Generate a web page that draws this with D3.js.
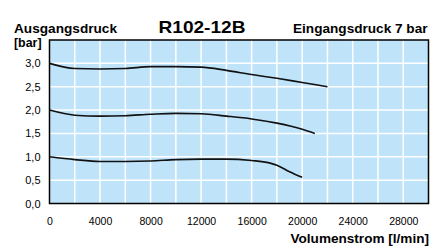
<!DOCTYPE html>
<html><head><meta charset="utf-8">
<script src="https://cdn.jsdelivr.net/npm/d3@7"></script>
<style>body{margin:0;background:#fff}svg{display:block;font-family:"Liberation Sans",Arial,Helvetica,sans-serif}</style>
</head><body><svg id="c" width="438" height="248"></svg>
<script>
const title = "R102-12B";
const yLabel1 = "Ausgangsdruck", yLabel2 = "[bar]";
const inletLabel = "Eingangsdruck 7 bar";
const xLabel = "Volumenstrom [l/min]";
const xTicks = [0, 4000, 8000, 12000, 16000, 20000, 24000, 28000];
const yTicks = [0, 0.5, 1.0, 1.5, 2.0, 2.5, 3.0];
const flow3 = [0, 2000, 4000, 6000, 8000, 10000, 12000, 14000, 16000, 18000, 20000, 22000];
const p3 =    [3.0, 2.89, 2.88, 2.89, 2.93, 2.93, 2.92, 2.85, 2.76, 2.68, 2.59, 2.5];
const flow2 = [0, 2000, 4000, 6000, 8000, 10000, 12000, 14000, 16000, 18000, 20000, 21000];
const p2 =    [2.0, 1.89, 1.87, 1.88, 1.91, 1.93, 1.92, 1.87, 1.81, 1.72, 1.59, 1.5];
const flow1 = [0, 2000, 4000, 6000, 8000, 10000, 12000, 14000, 16000, 17400, 18000, 19000, 20000];
const p1 =    [1.0, 0.94, 0.9, 0.9, 0.91, 0.94, 0.95, 0.95, 0.92, 0.87, 0.82, 0.68, 0.56];

const svg = d3.select("#c");
const x = d3.scaleLinear().domain([0, 30000]).range([49.5, 428.5]);
const y = d3.scaleLinear().domain([0, 3.5]).range([203.5, 40]);

svg.append("rect").attr("x", x(0)).attr("y", y(3.5)).attr("width", x(30000)-x(0)).attr("height", y(0)-y(3.5)).attr("fill", "#bfe3f9");

const g = svg.append("g");
g.selectAll("line.v").data(d3.range(2000, 30000, 2000)).join("line")
  .attr("x1", d=>x(d)).attr("x2", d=>x(d)).attr("y1", y(0)).attr("y2", y(3.5))
  .attr("stroke", "#fff").attr("stroke-width", 1.5);
g.selectAll("line.h").data(d3.range(0.5, 3.5, 0.5)).join("line")
  .attr("y1", d=>y(d)).attr("y2", d=>y(d)).attr("x1", x(0)).attr("x2", x(30000))
  .attr("stroke", "#fff").attr("stroke-width", 1.5);

const line = d3.line().x(d=>x(d[0])).y(d=>y(d[1])).curve(d3.curveMonotoneX);
[[flow3,p3],[flow2,p2],[flow1,p1]].forEach(([f,p])=>{
  svg.append("path").attr("d", line(f.map((v,i)=>[v,p[i]])))
    .attr("fill","none").attr("stroke","#111").attr("stroke-width",1.6);
});

svg.append("rect").attr("x", x(0)).attr("y", y(3.5)).attr("width", x(30000)-x(0)).attr("height", y(0)-y(3.5))
  .attr("fill", "none").attr("stroke", "#000").attr("stroke-width", 1.5);

const xa = svg.append("g").attr("transform", `translate(0,${y(0)})`)
  .call(d3.axisBottom(x).tickValues(xTicks).tickSize(0).tickPadding(14).tickFormat(d3.format("d")));
xa.select(".domain").remove();
xa.selectAll("text").attr("font-size", 10.5).attr("fill", "#000").attr("font-family", "Liberation Sans, Arial, sans-serif");

const ya = svg.append("g").attr("transform", `translate(${x(0)},0)`)
  .call(d3.axisLeft(y).tickValues(yTicks).tickSize(0).tickPadding(9).tickFormat(d=>d3.format(".1f")(d).replace(".", ",")));
ya.select(".domain").remove();
ya.selectAll("text").attr("font-size", 11).attr("fill", "#000").attr("font-family", "Liberation Sans, Arial, sans-serif");

function label(txt, xx, yy, size, len, anchor) {
  svg.append("text").attr("x", xx).attr("y", yy).attr("font-size", size).attr("font-weight", "bold")
    .attr("text-anchor", anchor || "start")
    .attr("textLength", len).attr("lengthAdjust", "spacingAndGlyphs").text(txt);
}
label(yLabel1, 14, 33, 12.5, 103);
label(yLabel2, 14, 46.5, 12.5, 27.5);
label(title, 158.5, 33, 17, 87);
label(inletLabel, 293, 33, 12.5, 134.5);
label(xLabel, 290.5, 243.3, 12.5, 138.5);
</script></body></html>
